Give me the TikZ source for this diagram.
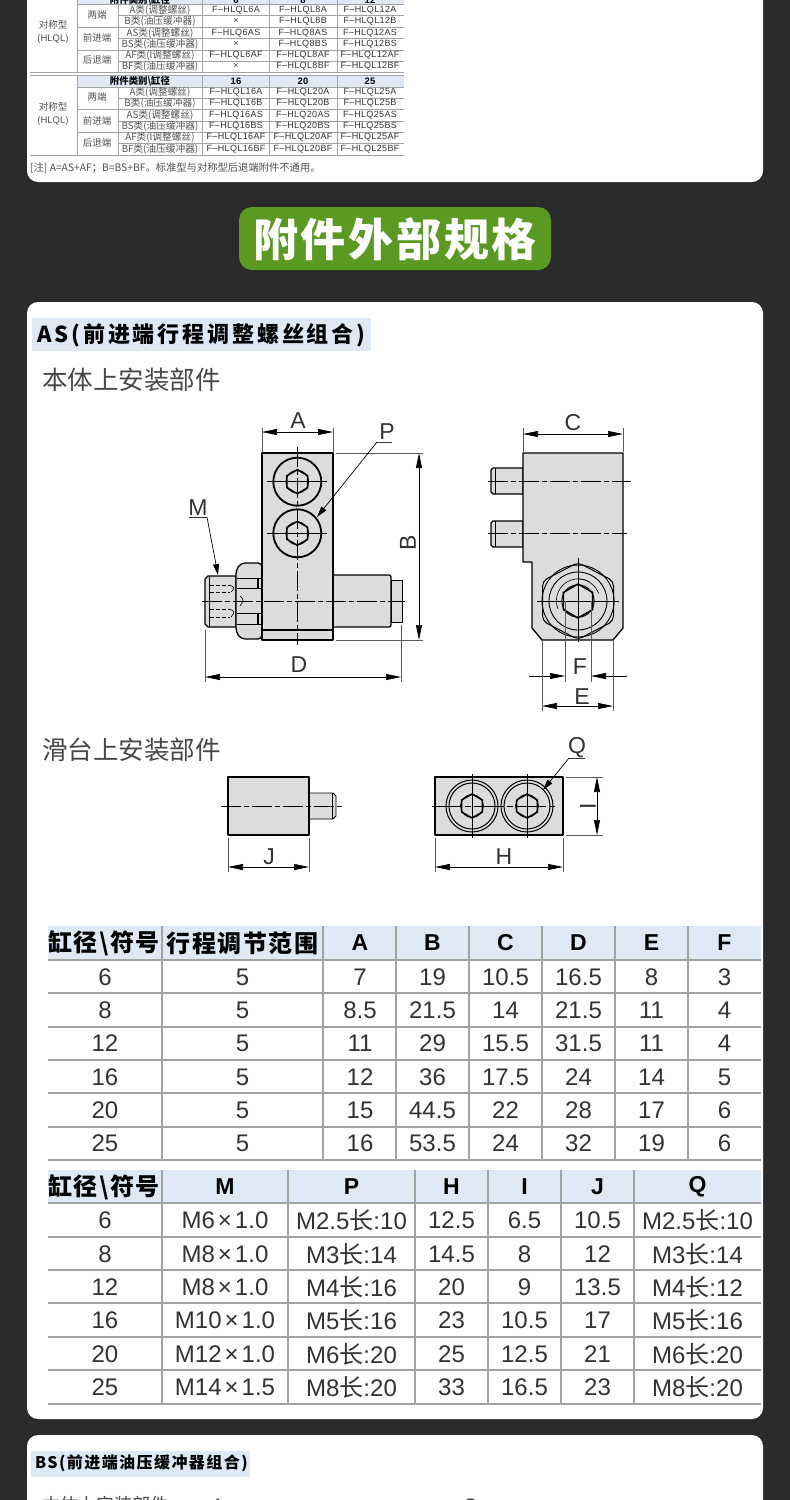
\documentclass[tikz,border=0pt]{standalone}
\usepackage{fontspec}
\usepackage{amssymb}
\setmainfont{Liberation Sans}
\newfontfamily\cjkf{Noto Sans CJK SC}
\newcommand\cj[1]{{\cjkf #1}}
\usetikzlibrary{arrows.meta}
\definecolor{bgdark}{HTML}{2B2B2B}
\definecolor{hdrblue}{HTML}{DFE9F6}
\definecolor{rulegray}{HTML}{A3A3A3}
\definecolor{partgray}{HTML}{DCDCDC}
\definecolor{green1}{HTML}{5B9A22}
\definecolor{ink}{HTML}{333333}
\tikzset{
  card/.style={fill=white,rounded corners=11pt},
  rl/.style={draw=rulegray,line width=1.2pt},
  srl/.style={draw=rulegray,line width=.7pt},
  big/.style={font=\fontsize{24}{24}\selectfont,text=ink,inner sep=0pt},
  bighd/.style={font=\fontsize{23}{23}\selectfont\bfseries,text=black,inner sep=0pt},
  cjhd/.style={font=\cjkf\fontsize{24}{24}\selectfont\bfseries\addfontfeature{LetterSpace=6},text=black,inner sep=0pt},
  sm/.style={font=\fontsize{9}{9}\selectfont\addfontfeature{LetterSpace=4},text=ink,inner sep=0pt},
  smhd/.style={font=\fontsize{9.4}{9.4}\selectfont\bfseries\addfontfeature{LetterSpace=4},text=black,inner sep=0pt},
  smc/.style={font=\cjkf\fontsize{9.7}{9.7}\selectfont,text=ink!85,inner sep=0pt},
  smg/.style={font=\cjkf\fontsize{9.5}{12.5}\selectfont,text=ink!85,inner sep=0pt,align=center},
  view/.style={font=\cjkf\fontsize{25.5}{25.5}\selectfont,text=ink!90,inner sep=0pt,anchor=west},
  dimtxt/.style={font=\fontsize{23}{23}\selectfont,text=ink,inner sep=0pt},
  part/.style={fill=partgray,draw=black,line width=1.3pt,line join=round},
  thick1/.style={draw=black,line width=1.3pt},
  cline/.style={draw=black,line width=.7pt,dash pattern=on 20pt off 3pt on 5pt off 3pt},
  ext/.style={draw=ink!80,line width=.6pt},
  dim/.style={draw=black,line width=.7pt,{Triangle[length=15pt,width=6pt]}-{Triangle[length=15pt,width=6pt]}},
  dimone/.style={draw=black,line width=.7pt,-{Triangle[length=15pt,width=6pt]}},
  lead/.style={draw=black,line width=.7pt,-{Triangle[length=11pt,width=6pt]}},
  uline/.style={draw=ink,line width=.7pt},
  socket/.pic={
    \draw[thick1,line width=1.5pt] (90:\socketr) -- (30:\socketr) -- (-30:\socketr) -- (-90:\socketr) -- (-150:\socketr) -- (150:\socketr) -- cycle;
    \draw[draw=black,line width=.9pt] (0,0) circle[radius=\socketr*.95];
  }
}
\def\socketr{12}
\begin{document}
\begin{tikzpicture}[x=1pt,y=-1pt]
\useasboundingbox (0,0) rectangle (790,1500);
\clip (0,0) rectangle (790,1500);
\fill[bgdark] (0,0) rectangle (790,1500);
% cards
\fill[card] (27,-30) rectangle (763,182);
\fill[card] (27,302) rectangle (763,1419);
\fill[card] (27,1435) rectangle (763,1540);

% ---------- small table at the top
\fill[hdrblue] (77,-5) rectangle (404,4.5);
\fill[hdrblue] (77,75.5) rectangle (404,87);
\foreach \y in {15.7,38.5,61,98,121,143.5} \draw[srl] (118,\y) -- (404,\y);
\foreach \y in {4.5,27,50,87,109.5,132} \draw[srl] (77,\y) -- (404,\y);
\foreach \y in {72,75,155} \draw[srl] (30,\y) -- (404,\y);
\foreach \x in {77,202,269,337} {\draw[srl] (\x,0) -- (\x,72); \draw[srl] (\x,75.5) -- (\x,155);}
\draw[srl] (118,4.5) -- (118,72);
\draw[srl] (118,87) -- (118,155);
\node[smhd] (h0a) at (140,0) {\cj{附件类别\textbackslash 缸径}};
\node[smhd] (h0b) at (236,0) {6};
\node[smhd] (h0c) at (303,0) {8};
\node[smhd] (h0d) at (370,0) {12};
\node[smhd] (h1a) at (140,81) {\cj{附件类别\textbackslash 缸径}};
\node[smhd] (h1b) at (236,81) {16};
\node[smhd] (h1c) at (303,81) {20};
\node[smhd] (h1d) at (370,81) {25};
\node[smg] (g1) at (53,32) {对称型\\\fontspec{Liberation Sans}(HLQL)};
\node[smg] (g2) at (53,114) {对称型\\\fontspec{Liberation Sans}(HLQL)};
\foreach \y/\t [count=\i] in {15/两端,38/前进端,60/后退端,97/两端,121/前进端,143/后退端}
  \node[smc,font=\cjkf\fontsize{9.5}{9.5}\selectfont] (gr\i) at (97,\y) {\t};
\foreach \y/\l/\a/\b/\c [count=\i] in {
  10/A类(调整螺丝)/F–HLQL6A/F–HLQL8A/F–HLQL12A,
  21/B类(油压缓冲器)/×/F–HLQL8B/F–HLQL12B,
  33/AS类(调整螺丝)/F–HLQ6AS/F–HLQ8AS/F–HLQ12AS,
  44/BS类(油压缓冲器)/×/F–HLQ8BS/F–HLQ12BS,
  55/AF类(l调整螺丝)/F–HLQL6AF/F–HLQL8AF/F–HLQL12AF,
  66/BF类(油压缓冲器)/×/F–HLQL8BF/F–HLQL12BF,
  92/A类(调整螺丝)/F–HLQL16A/F–HLQL20A/F–HLQL25A,
  103/B类(油压缓冲器)/F–HLQL16B/F–HLQL20B/F–HLQL25B,
  115/AS类(调整螺丝)/F–HLQ16AS/F–HLQ20AS/F–HLQ25AS,
  126/BS类(油压缓冲器)/F–HLQ16BS/F–HLQ20BS/F–HLQ25BS,
  137/AF类(l调整螺丝)/F–HLQL16AF/F–HLQL20AF/F–HLQL25AF,
  149/BF类(油压缓冲器)/F–HLQL16BF/F–HLQL20BF/F–HLQL25BF} {
  \node[smc] (sl\i) at (160,\y) {\l};
  \node[sm] (sa\i) at (236,\y) {\a};
  \node[sm] (sb\i) at (303,\y) {\b};
  \node[sm] (sc\i) at (370,\y) {\c};
}
\node[smc,anchor=west,font=\cjkf\fontsize{10.3}{10.3}\selectfont] (note) at (30,168) {[注] A=AS+AF；B=BS+BF。标准型与对称型后退端附件不通用。};

% ---------- green heading
\fill[green1,rounded corners=13pt] (239,207) rectangle (551,270);
\node[font=\cjkf\fontsize{45}{45}\selectfont\bfseries\addfontfeature{LetterSpace=6},text=white,inner sep=0pt] (title) at (395,239) {附件外部规格};

% ---------- section heading AS
\fill[hdrblue] (32,318) rectangle (371,351);
\node[font=\cjkf\fontsize{22}{22}\selectfont\bfseries\addfontfeature{LetterSpace=13},text=black,inner sep=0pt,anchor=west] (as) at (37,335) {AS(前进端行程调整螺丝组合)};
\node[view] (v1) at (42,380) {本体上安装部件};
\node[view] (v2) at (42,750) {滑台上安装部件};

% ---------- front view
\draw[part,rounded corners=2pt] (333,575) -- (391,575) -- (391,627) -- (333,627);
\draw[part,line width=.9pt] (391,580) rectangle (402,622);
\draw[part] (208,576) -- (236,576) -- (236,627) -- (208,627) -- (205,624) -- (205,579) -- cycle;
\draw[line width=.6pt] (209,576) -- (209,627);
\foreach \y in {585,592,609,617} \draw[line width=.6pt,dash pattern=on 4pt off 2pt] (210,\y) -- (230,\y);
\draw[line width=.6pt] (230,585) .. controls (235,588) .. (231,592);
\draw[line width=.6pt] (230,609) .. controls (235,612) .. (231,617);
\draw[part,rounded corners=4pt] (262,563) -- (241,563) -- (236,570) -- (236,632) -- (241,639) -- (262,639) -- cycle;
\foreach \y in {578,588,613,624} \draw[thick1,line width=.9pt] (237,\y) -- (262,\y);
\draw[thick1] (258,578) -- (258,588);
\draw[thick1] (258,613) -- (258,624);
\draw[line width=.6pt] (240,596) .. controls (244,600) .. (240,606);
\draw[part] (262,453) rectangle (333,640);
\draw[thick1] (262,630) -- (333,630);
\foreach \cy in {481.7,533.3} {
  \draw[draw=black,line width=1.8pt] (297.3,\cy) circle[radius=24];
  \draw[draw=black,line width=.7pt] (267,\cy) -- (327,\cy);
  \pic at (297.3,\cy) {socket};
}
\draw[cline] (297.3,447) -- (297.3,645);
\draw[cline] (202,601) -- (405,601);
% dimensions front view
\draw[ext] (262,428) -- (262,452);
\draw[ext] (333,428) -- (333,452);
\draw[dim] (262,432) -- (333,432);
\node[dimtxt] (lA) at (298,421) {A};
\draw[ext] (336,453) -- (423,453);
\draw[ext] (336,640) -- (423,640);
\draw[dim] (419,453) -- (419,640);
\node[dimtxt,rotate=90] (lB) at (408,543) {B};
\draw[ext] (205,630) -- (205,682);
\draw[ext] (401,625) -- (401,682);
\draw[dim] (205,677) -- (401,677);
\node[dimtxt] (lD) at (299,665) {D};
\node[dimtxt] (lP) at (387,432) {P};
\coordinate (pu) at (377,442);
\coordinate (pe) at (317,517);
\draw[uline] (pu) -- (392,442);
\draw[lead] (pu) -- (pe);
\node[dimtxt] (lM) at (198,508) {M};
\coordinate (mu) at (207,517);
\coordinate (me) at (218,575);
\draw[uline] (189,517) -- (mu);
\draw[lead] (mu) -- (me);

% ---------- side view
\draw[part] (491,470) -- (493,468) -- (523,468) -- (523,494) -- (493,494) -- (491,492) -- cycle;
\draw[part] (491,523) -- (493,521) -- (523,521) -- (523,547) -- (493,547) -- (491,545) -- cycle;
\draw[line width=.5pt] (495,468) -- (495,494);
\draw[line width=.5pt] (495,521) -- (495,547);
\draw[part] (523,453) -- (623,453) -- (623,628) -- (613,640) -- (542,640) -- (532,628) -- (532,562) -- (523,562) -- cycle;
\draw[draw=black,line width=1pt,rounded corners=5pt,fill=partgray] (578,562.5) -- (613.5,581) -- (613.5,621) -- (578,639.5) -- (542.5,621) -- (542.5,581) -- cycle;
\draw[draw=black,line width=.9pt] (578,601) circle[radius=36];
\draw[draw=black,line width=.9pt] (578,601) circle[radius=29];
\draw[draw=black,line width=.6pt] (558,609) arc[start angle=158,end angle=300,radius=22];
\draw[draw=black,line width=.6pt] (578,579) arc[start angle=-90,end angle=-20,radius=22];
\def\socketr{17}
\pic at (578,601) {socket};
\def\socketr{12}
\draw[cline] (488,481) -- (631,481);
\draw[cline] (488,533) -- (627,533);
\draw[draw=black,line width=.7pt] (578,558) -- (578,642);
\draw[draw=black,line width=.7pt] (537,601) -- (619,601);
% dims side view
\draw[ext] (523,428) -- (523,452);
\draw[ext] (623,428) -- (623,452);
\draw[dim] (523,434) -- (623,434);
\node[dimtxt] (lC) at (573,423) {C};
\draw[ext] (565,601) -- (565,682);
\draw[ext] (591,601) -- (591,682);
\draw[dimone] (529,676) -- (565,676);
\draw[dimone] (627,676) -- (591,676);
\node[dimtxt] (lF) at (580,667) {F};
\draw[ext] (542,640) -- (542,711);
\draw[ext] (613,640) -- (613,711);
\draw[dim] (542,706) -- (613,706);
\node[dimtxt] (lE) at (582,697) {E};

% ---------- slide parts: left
\draw[part,line width=.9pt] (309,793) -- (333,793) -- (336,796) -- (336,816) -- (333,819) -- (309,819) -- cycle;
\draw[line width=.5pt] (332,793) -- (332,819);
\draw[part] (228,777) rectangle (309,835);
\draw[cline] (221,806) -- (343,806);
\draw[ext] (228,838) -- (228,872);
\draw[ext] (309,838) -- (309,872);
\draw[dim] (228,867) -- (309,867);
\node[dimtxt] (lJ) at (269,857) {J};
% right
\draw[part] (435,777) rectangle (563,835);
\foreach \cx in {472,527} {
  \draw[draw=black,line width=1pt] (\cx,806) circle[radius=26];
  \draw[draw=black,line width=1pt] (\cx,806) circle[radius=23];
  \pic at (\cx,806) {socket};
  \draw[draw=black,line width=.6pt] (\cx,774) -- (\cx,838);
}
\draw[draw=black,line width=.6pt,dash pattern=on 30pt off 3pt on 6pt off 3pt] (432,806) -- (557,806);
\draw[ext] (435,838) -- (435,872);
\draw[ext] (563,838) -- (563,872);
\draw[dim] (435,867) -- (563,867);
\node[dimtxt] (lH) at (504,857) {H};
\draw[ext] (566,777) -- (603,777);
\draw[ext] (566,835) -- (603,835);
\draw[dim] (597,777) -- (597,835);
\node[dimtxt,rotate=90] (lI) at (588,806) {I};
\node[dimtxt] (lQ) at (577,748) {Q};
\coordinate (qu) at (569,758);
\coordinate (qe) at (543,790);
\draw[uline] (qu) -- (585,758);
\draw[lead] (qu) -- (qe);

% ---------- big table 1
\fill[hdrblue] (48,926) rectangle (761,960);
\foreach \y in {960,993,1027,1060,1093,1127,1160} \draw[rl] (48,\y) -- (761,\y);
\foreach \x in {162,323,396,469,542,615,688} \draw[rl] (\x,926) -- (\x,1160);
\node[cjhd] (t1h0) at (104,943) {缸径\textbackslash 符号};
\node[cjhd] (t1h1) at (242.5,943) {行程调节范围};
\foreach \x/\t [count=\i] in {360/A,432.5/B,505.5/C,578.5/D,651.5/E,724.5/F}
  \node[bighd] (t1l\i) at (\x,943) {\t};
\foreach \y/\a/\s/\A/\B/\C/\D/\E/\F [count=\i] in {
  977/6/5/7/19/10.5/16.5/8/3,
  1010/8/5/8.5/21.5/14/21.5/11/4,
  1043/12/5/11/29/15.5/31.5/11/4,
  1077/16/5/12/36/17.5/24/14/5,
  1110/20/5/15/44.5/22/28/17/6,
  1143/25/5/16/53.5/24/32/19/6} {
  \node[big] (ta\i) at (105,\y) {\a};
  \node[big] (tb\i) at (242.5,\y) {\s};
  \node[big] (tc\i) at (360,\y) {\A};
  \node[big] (td\i) at (432.5,\y) {\B};
  \node[big] (te\i) at (505.5,\y) {\C};
  \node[big] (tf\i) at (578.5,\y) {\D};
  \node[big] (tg\i) at (651.5,\y) {\E};
  \node[big] (th\i) at (724.5,\y) {\F};
}

% ---------- big table 2
\fill[hdrblue] (48,1170) rectangle (761,1203);
\foreach \y in {1203,1237,1270,1303,1337,1370,1404} \draw[rl] (48,\y) -- (761,\y);
\foreach \x in {162,288,415,488,561,634} \draw[rl] (\x,1170) -- (\x,1404);
\node[cjhd] (t2h0) at (104,1187) {缸径\textbackslash 符号};
\foreach \x/\t [count=\i] in {225/M,351.5/P,451.5/H,524.5/I,597.5/J,697.5/Q}
  \node[bighd] (t2l\i) at (\x,1187) {\t};
\def\tm{\hspace{3pt}×\hspace{3pt}}
\foreach \y/\a/\M/\P/\H/\I/\J/\Q [count=\i] in {
  1220/6/M6\tm 1.0/M2.5\cj{长}:10/12.5/6.5/10.5/M2.5\cj{长}:10,
  1254/8/M8\tm 1.0/M3\cj{长}:14/14.5/8/12/M3\cj{长}:14,
  1287/12/M8\tm 1.0/M4\cj{长}:16/20/9/13.5/M4\cj{长}:12,
  1320/16/M10\tm 1.0/M5\cj{长}:16/23/10.5/17/M5\cj{长}:16,
  1354/20/M12\tm 1.0/M6\cj{长}:20/25/12.5/21/M6\cj{长}:20,
  1387/25/M14\tm 1.5/M8\cj{长}:20/33/16.5/23/M8\cj{长}:20} {
  \node[big] (ua\i) at (105,\y) {\a};
  \node[big] (ub\i) at (225,\y) {\M};
  \node[big] (uc\i) at (351.5,\y) {\P};
  \node[big] (ud\i) at (451.5,\y) {\H};
  \node[big] (ue\i) at (524.5,\y) {\I};
  \node[big] (uf\i) at (597.5,\y) {\J};
  \node[big] (ug\i) at (697.5,\y) {\Q};
}

% ---------- next section, cut by the lower edge
\fill[hdrblue] (31,1451) rectangle (250,1477);
\node[font=\cjkf\fontsize{16}{16}\selectfont\bfseries\addfontfeature{LetterSpace=9},text=black,inner sep=0pt,anchor=west] (bs) at (35,1463) {BS(前进端油压缓冲器组合)};
\node[view,font=\cjkf\fontsize{18}{18}\selectfont] (v3) at (42,1505) {本体上安装部件};
\node[dimtxt,font=\fontsize{18}{18}\selectfont] (lA2) at (218,1505) {A};
\node[dimtxt,font=\fontsize{18}{18}\selectfont] (lC2) at (470,1505) {C};
\end{tikzpicture}
\end{document}
